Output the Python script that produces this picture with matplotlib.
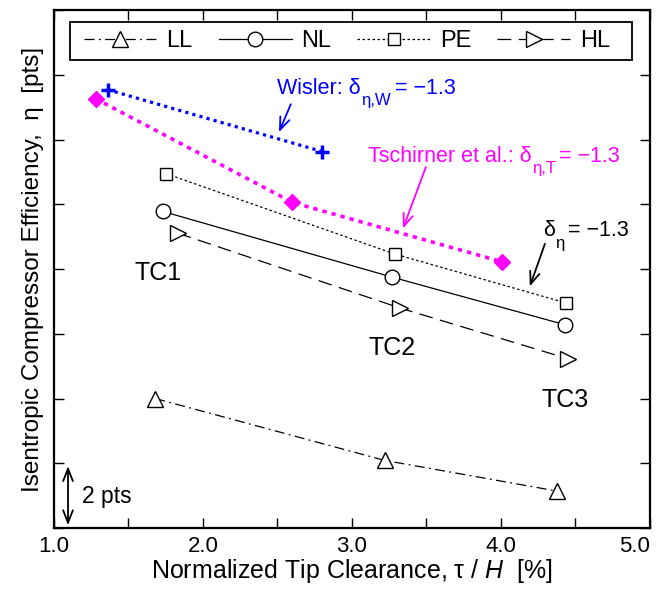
import matplotlib.pyplot as plt
from matplotlib.patches import Rectangle
from matplotlib.ticker import MultipleLocator, FixedLocator, FormatStrFormatter

plt.rcParams['font.family'] = ['Liberation Sans', 'DejaVu Sans']
plt.rcParams['mathtext.fontset'] = 'custom'
plt.rcParams['mathtext.rm'] = 'Liberation Sans'
plt.rcParams['mathtext.it'] = 'Liberation Sans:italic'

# tip clearance [%] and efficiency [pts, relative]
ll_x = [1.68, 3.22, 4.38]
ll_y = [4.0, 2.09, 1.14]
nl_x = [1.73, 3.27, 4.43]
nl_y = [9.78, 7.75, 6.28]
pe_x = [1.75, 3.29, 4.44]
pe_y = [10.95, 8.46, 6.95]
hl_x = [1.83, 3.32, 4.45]
hl_y = [9.11, 6.80, 5.23]
wisler_x = [1.36, 2.80]
wisler_y = [13.54, 11.63]
tsch_x = [1.28, 2.60, 4.01]
tsch_y = [13.26, 10.06, 8.22]
tc_labels = ['TC1', 'TC2', 'TC3']
tc_x = [1.70, 3.27, 4.43]
tc_y = [7.88, 5.57, 3.97]
xticks = [1.0, 2.0, 3.0, 4.0, 5.0]

fig = plt.figure(figsize=(6.62, 5.9), dpi=100)
ax = fig.add_axes([0.0816, 0.105, 0.9, 0.878])

ax.plot(ll_x, ll_y, color='k', lw=0.9, ls=(0, (8, 3.5, 1.5, 3.5)), marker='^', ms=12,
        mfc='white', mec='k', mew=1, label='LL')
ax.plot(nl_x, nl_y, color='k', lw=0.9, ls='-', marker='o', ms=10.5,
        mfc='white', mec='k', mew=1, label='NL')
ax.plot(pe_x, pe_y, color='k', lw=0.9, ls=(0, (2, 2)), marker='s', ms=8.5,
        mfc='white', mec='k', mew=1, label='PE')
ax.plot(hl_x, hl_y, color='k', lw=0.9, ls=(0, (11, 6)), marker='>', ms=11,
        mfc='white', mec='k', mew=1, label='HL')

ax.plot(wisler_x, wisler_y, color='blue', lw=2.3, ls=(0, (1, 1.3)), marker='+',
        ms=10, mew=2.5)
ax.plot(tsch_x, tsch_y, color='magenta', lw=2.6, ls=(0, (1.2, 1.4)), marker='D',
        ms=8.5, mfc='magenta', mec='magenta')

ax.set_xlim(1.0, 5.0)
ax.set_ylim(0, 16)
ax.xaxis.set_major_locator(FixedLocator(xticks))
ax.xaxis.set_minor_locator(MultipleLocator(0.5))
ax.xaxis.set_major_formatter(FormatStrFormatter('%.1f'))
ax.yaxis.set_major_locator(MultipleLocator(2))
ax.set_yticklabels([])
ax.tick_params(which='both', direction='in', top=True, right=True, length=7,
               width=1, labelsize=16)
ax.tick_params(axis='x', pad=6)
for s in ax.spines.values():
    s.set_linewidth(1.6)

fig.canvas.draw()
renderer = fig.canvas.get_renderer()
# keep the last tick label inside the figure
ax.xaxis.get_major_ticks()[-1].label1.set_horizontalalignment('right')


def sub_text(x, y, pieces, color, size):
    # pieces: (text, is_subscript, gap before in points)
    off = 0.0
    for s, sub, gap in pieces:
        off += gap
        t = ax.annotate(s, xy=(x, y), xytext=(off, -0.55 * size if sub else 0),
                        textcoords='offset points', fontsize=size * 0.78 if sub else size,
                        color=color, va='baseline', ha='left')
        off += t.get_window_extent(renderer).width * 72 / fig.dpi


sub_text(2.50, 13.42, [('Wisler: δ', False, 0), ('η,W', True, 0.3), ('= −1.3', False, 2.5)],
         'blue', 15.5)
sub_text(3.107, 11.32, [('Tschirner et al.: δ', False, 0), ('η,T', True, 0.3),
                        ('= −1.3', False, 2.5)], 'magenta', 15.5)
sub_text(4.282, 9.02, [('δ', False, 0), ('η', True, 0.3), ('= −1.3', False, 2.5)],
         'k', 15.5)

arrow = dict(arrowstyle='->,head_length=0.9,head_width=0.35', lw=1.3)
ax.annotate('', xy=(2.503, 12.15), xytext=(2.597, 13.17),
            arrowprops=dict(arrow, color='blue'))
ax.annotate('', xy=(3.336, 9.17), xytext=(3.503, 11.23),
            arrowprops=dict(arrow, color='magenta'))
ax.annotate('', xy=(4.188, 7.38), xytext=(4.302, 8.86),
            arrowprops=dict(arrow, color='k'))

for lab, x, y in zip(tc_labels, tc_x, tc_y):
    ax.text(x, y, lab, fontsize=18, ha='center', va='center')

ax.annotate('', xy=(1.094, 0), xytext=(1.094, 2),
            arrowprops=dict(arrowstyle='<->,head_length=0.9,head_width=0.35', lw=1.3))
ax.text(1.19, 0.98, '2 pts', fontsize=16.5, va='center', ha='left')

ax.set_xlabel('Normalized Tip Clearance, τ / $H$  [%]', fontsize=18, labelpad=0)
ax.set_ylabel('Isentropic Compressor Efficiency,  η  [pts]', fontsize=17.5, labelpad=4)

# legend box drawn as a rectangle, entries placed inside it
ax.add_patch(Rectangle((0.0268, 0.9035), 0.943, 0.0734, transform=ax.transAxes,
                       fill=True, facecolor='white', edgecolor='k', lw=1.3, zorder=4))
leg = ax.legend(ncol=4, loc='center left', bbox_to_anchor=(0.05, 0.940),
                fontsize=17, frameon=False, handlelength=3.1, borderpad=0,
                handletextpad=0.4, columnspacing=1.1, borderaxespad=0)
leg.set_zorder(5)

fig.savefig('out.png', dpi=100)
